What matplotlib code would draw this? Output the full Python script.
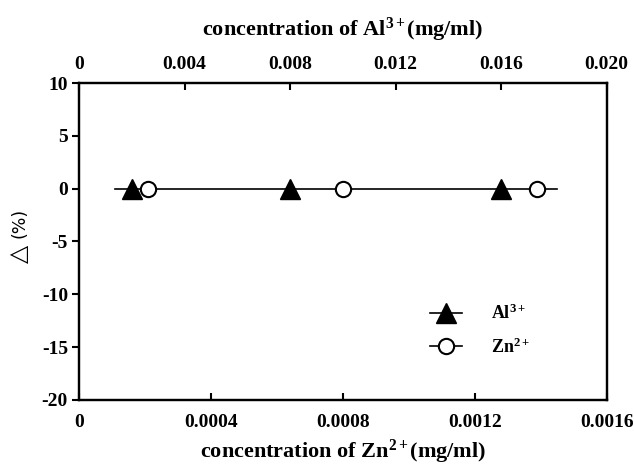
import matplotlib
matplotlib.use('Agg')
import matplotlib.pyplot as plt
from matplotlib.lines import Line2D

plt.rcParams['font.family'] = ['Liberation Serif', 'DejaVu Sans']
plt.rcParams['mathtext.fontset'] = 'custom'
plt.rcParams['mathtext.rm'] = 'Liberation Serif'
plt.rcParams['mathtext.bf'] = 'Liberation Serif:bold'
plt.rcParams['mathtext.it'] = 'Liberation Serif:italic'

# data
al_conc = [0.002, 0.008, 0.016]          # top axis, mg/ml
al_delta = [0.0, 0.0, 0.0]
zn_conc = [0.00021, 0.0008, 0.00139]     # bottom axis, mg/ml
zn_delta = [0.0, 0.0, 0.0]
zero_x = [0.00011, 0.00145]
zero_y = [0.0, 0.0]

zn_ticks = [0, 0.0004, 0.0008, 0.0012, 0.0016]
zn_labels = ['0', '0.0004', '0.0008', '0.0012', '0.0016']
al_ticks = [0, 0.004, 0.008, 0.012, 0.016, 0.020]
al_labels = ['0', '0.004', '0.008', '0.012', '0.016', '0.020']
y_ticks = [10, 5, 0, -5, -10, -15, -20]

fig = plt.figure(figsize=(6.34, 4.65), dpi=100)
ax = fig.add_axes([0.1246, 0.1398, 0.8324, 0.6817])
ax2 = ax.twiny()

ax.plot(zero_x, zero_y, color='black', lw=1.2, zorder=2)
ax.plot(zn_conc, zn_delta, 'o', ms=11, mfc='white', mec='black', mew=1.5, zorder=4)
ax2.plot(al_conc, al_delta, '^', ms=14, color='black', zorder=4)

ax.set_xlim(0, 0.0016)
ax2.set_xlim(0, 0.020)
ax.set_ylim(-20, 10)

ax.set_xticks(zn_ticks)
ax.set_xticklabels(zn_labels, fontweight='bold', fontsize=14)
ax2.set_xticks(al_ticks)
ax2.set_xticklabels(al_labels, fontweight='bold', fontsize=14)
ax.set_yticks(y_ticks)
ax.set_yticklabels([str(v) for v in y_ticks], fontweight='bold', fontsize=14)

ax.tick_params(axis='x', direction='in', length=5, width=1.5, pad=10)
ax2.tick_params(axis='x', direction='in', length=5, width=1.5, pad=7)
ax.tick_params(axis='y', direction='out', length=5, width=1.5, pad=3)
for a in (ax, ax2):
    for s in a.spines.values():
        s.set_linewidth(1.6)

ax.set_xlabel('concentration of Zn$^{\\mathbf{2+}}$(mg/ml)', fontweight='bold',
              fontsize=16, labelpad=5)
ax2.set_xlabel('concentration of Al$^{\\mathbf{3+}}$(mg/ml)', fontweight='bold',
               fontsize=16, labelpad=15)

# y label: large outline triangle followed by (%)
fig.text(19 / 634, 1 - 254 / 465, '\u25b3', family=['DejaVu Sans'], fontsize=17,
         rotation=90, ha='center', va='center')
fig.text(20 / 634, 1 - 223 / 465, '(%)', family=['DejaVu Sans'], fontsize=12.5,
         rotation=90, ha='center', va='center')

handles = [
    Line2D([], [], color='black', lw=1.2, marker='^', ms=14),
    Line2D([], [], color='black', lw=1.2, marker='o', ms=11, mfc='white', mew=1.5),
]
ax.legend(handles, ['Al$^{\\mathbf{3+}}$', 'Zn$^{\\mathbf{2+}}$'], loc='lower right',
          bbox_to_anchor=(0.885, 0.085), frameon=False, handlelength=1.8,
          labelspacing=0.8, handletextpad=1.6, prop={'weight': 'bold', 'size': 13})

fig.savefig('out.png', dpi=100)
